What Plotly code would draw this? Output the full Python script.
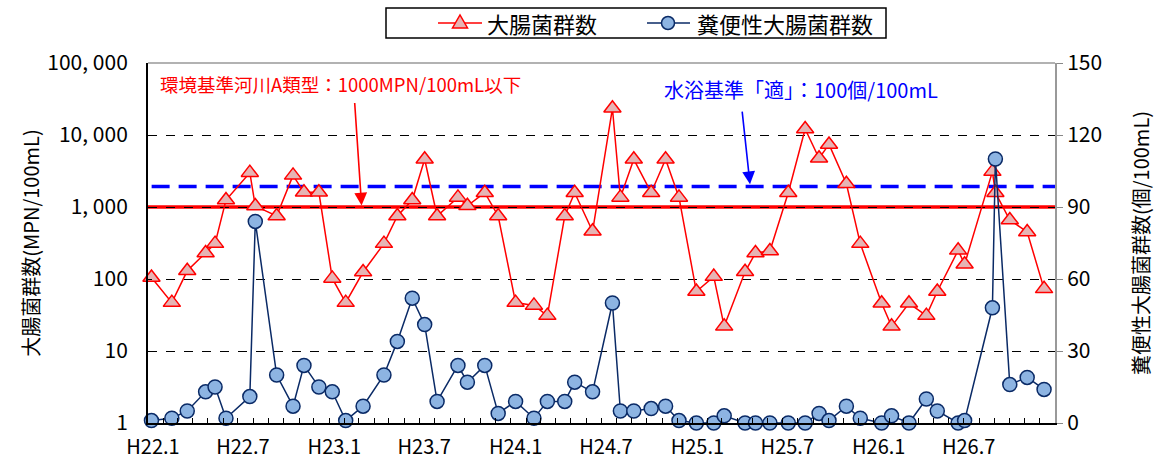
import plotly.graph_objects as go

# sampling dates
dates = [
    "2010-01-08", "2010-02-18", "2010-03-21", "2010-04-27", "2010-05-16", "2010-06-07",
    "2010-07-25", "2010-08-05", "2010-09-17", "2010-10-20", "2010-11-11", "2010-12-11",
    "2011-01-07", "2011-02-03", "2011-03-10", "2011-04-21", "2011-05-18", "2011-06-17",
    "2011-07-12", "2011-08-06", "2011-09-17", "2011-10-06", "2011-11-10", "2011-12-07",
    "2012-01-11", "2012-02-17", "2012-03-15", "2012-04-19", "2012-05-09", "2012-06-14",
    "2012-07-24", "2012-08-09", "2012-09-05", "2012-10-10", "2012-11-08", "2012-12-05",
    "2013-01-09", "2013-02-13", "2013-03-06", "2013-04-17", "2013-05-08", "2013-06-06",
    "2013-07-13", "2013-08-16", "2013-09-13", "2013-10-03", "2013-11-07", "2013-12-05",
    "2014-01-17", "2014-02-06", "2014-03-13", "2014-04-17", "2014-05-09", "2014-06-20",
    "2014-07-03", "2014-08-28", "2014-09-03", "2014-10-02", "2014-11-06", "2014-12-10",
]

# 大腸菌群数 (MPN/100mL), left log axis
coliform = [
    105, 47, 130, 230, 310, 1250, 3000, 1030, 750, 2750, 1600, 1600,
    102, 47, 125, 310, 750, 1250, 4600, 750, 1360, 1040, 1580, 750,
    47, 43, 31, 750, 1580, 460, 23500, 1360, 4600, 1580, 4600, 1360,
    67, 108, 22, 126, 230, 245, 1580, 12100, 4750, 7400, 2100, 310,
    46, 22, 46, 31, 67, 250, 160, 3100, 1580, 660, 450, 73,
]

# 糞便性大腸菌群数 (個/100mL), right linear axis
fecal = [
    1, 2, 5, 13, 15, 2, 11, 84, 20, 7, 24, 15,
    13, 1, 7, 20, 34, 52, 41, 9, 24, 17, 24, 4,
    9, 2, 9, 9, 17, 13, 50, 5, 5, 6, 7, 1,
    0, 0, 3, 0, 0, 0, 0, 0, 4, 1, 7, 2,
    0, 3, 0, 10, 5, 0, 1, 48, 110, 16, 19, 14,
]

env_standard = 1000      # 環境基準河川A類型
bath_standard = 98.5     # 水浴基準「適」 (as drawn)

tick_dates = ["2010-01-01", "2010-07-01", "2011-01-01", "2011-07-01", "2012-01-01",
              "2012-07-01", "2013-01-01", "2013-07-01", "2014-01-01", "2014-07-01"]
tick_text = ["H22.1", "H22.7", "H23.1", "H23.7", "H24.1",
             "H24.7", "H25.1", "H25.7", "H26.1", "H26.7"]

left_vals = [1, 10, 100, 1000, 10000, 100000]
left_text = ["1", "10", "100", "1, 000", "10, 000", "100, 000"]

series_names = ["大腸菌群数", "糞便性大腸菌群数"]

font = "Noto Sans CJK JP"
RED = "#FF0000"
NAVY = "#0A2A66"
PINK = "#E6B4B4"
LIGHTBLUE = "#8DB4E2"

# plot area in pixels (for positioning things in the margins)
L, R, T, B = 148, 1055, 63, 423


def px(x):
    return (x - L) / (R - L)


def py(y):
    return (B - y) / (B - T)


fig = go.Figure()

fig.add_trace(go.Scatter(
    x=dates, y=coliform, name=series_names[0], mode="lines+markers",
    line=dict(color=RED, width=1.5),
    marker=dict(symbol="triangle-up", size=15, color=PINK, line=dict(color=RED, width=1.5)),
    cliponaxis=False,
))

fig.add_trace(go.Scatter(
    x=dates, y=fecal, name=series_names[1], mode="lines+markers", yaxis="y2",
    line=dict(color=NAVY, width=1.5),
    marker=dict(symbol="circle", size=14, color=LIGHTBLUE, line=dict(color=NAVY, width=1.5)),
    cliponaxis=False,
))

# standard lines
fig.add_shape(type="line", xref="paper", x0=0, x1=1, yref="y", y0=env_standard, y1=env_standard,
              line=dict(color=RED, width=3.5), layer="between")
fig.add_shape(type="line", xref="paper", x0=0.004, x1=1, yref="y2", y0=bath_standard, y1=bath_standard,
              line=dict(color="#0000FF", width=3.5, dash="18px,9px"), layer="between")

# labels and arrows
fig.add_annotation(text="環境基準河川A類型：1000MPN/100mL以下", xref="paper", yref="paper",
                   x=px(158), y=py(84), xanchor="left", yanchor="middle", showarrow=False,
                   font=dict(family=font, size=18.5, color=RED))
fig.add_annotation(text="", x="2011-03-07", y=3.02, xref="x", yref="y",
                   ax=-7, ay=-104, showarrow=True, arrowhead=2, arrowsize=1.6,
                   arrowwidth=1.6, arrowcolor=RED)
fig.add_annotation(text="水浴基準「適」：100個/100mL", xref="paper", yref="paper",
                   x=px(662), y=py(90), xanchor="left", yanchor="middle", showarrow=False,
                   font=dict(family=font, size=20, color="#0000FF"))
fig.add_annotation(text="", x="2013-04-27", y=bath_standard + 1, xref="x", yref="y2",
                   ax=-8, ay=-74, showarrow=True, arrowhead=2, arrowsize=1.6,
                   arrowwidth=1.6, arrowcolor="#0000FF")

# hand-drawn legend (a plotly legend above the plot would push the margins)
fig.add_shape(type="rect", xref="paper", yref="paper", x0=px(386), x1=px(886), y0=py(38), y1=py(8),
              line=dict(color="black", width=1.5), fillcolor="rgba(0,0,0,0)")
fig.add_shape(type="line", xref="paper", yref="paper", x0=px(438), x1=px(482), y0=py(23), y1=py(23),
              line=dict(color=RED, width=1.5))
fig.add_shape(type="path", xref="paper", yref="paper", xsizemode="pixel", ysizemode="pixel",
              xanchor=px(460), yanchor=py(23), path="M -7.5,-5 L 7.5,-5 L 0,8 Z",
              fillcolor=PINK, line=dict(color=RED, width=1.5))
fig.add_shape(type="line", xref="paper", yref="paper", x0=px(647), x1=px(690), y0=py(23), y1=py(23),
              line=dict(color=NAVY, width=1.5))
fig.add_shape(type="circle", xref="paper", yref="paper", xsizemode="pixel", ysizemode="pixel",
              xanchor=px(668), yanchor=py(23), x0=-6.5, x1=6.5, y0=-6.5, y1=6.5,
              fillcolor=LIGHTBLUE, line=dict(color=NAVY, width=1.5))
fig.add_annotation(text=series_names[0], xref="paper", yref="paper", x=px(485), y=py(23),
                   xanchor="left", yanchor="middle", showarrow=False, font=dict(size=22))
fig.add_annotation(text=series_names[1], xref="paper", yref="paper", x=px(695), y=py(23),
                   xanchor="left", yanchor="middle", showarrow=False, font=dict(size=22))

# top border of plot area
fig.add_shape(type="line", xref="paper", yref="paper", x0=0, x1=1, y0=1, y1=1,
              line=dict(color="#999999", width=1.5))

fig.update_layout(
    width=1163, height=470,
    margin=dict(l=L, r=1163 - R, t=T, b=470 - B),
    paper_bgcolor="white", plot_bgcolor="white",
    font=dict(family=font, size=20, color="black"),
    showlegend=False,
    xaxis=dict(
        type="date", range=["2010-01-01", "2015-01-01"], automargin=False,
        tickvals=tick_dates, ticktext=tick_text, tickfont=dict(size=20),
        ticks="inside", ticklen=5, tickcolor="black", ticklabelshift=5, ticklabelstandoff=5,
        minor=dict(dtick="M1", ticks="inside", ticklen=5, tickcolor="black"),
        showline=True, linecolor="black", linewidth=2, showgrid=False, zeroline=False,
    ),
    yaxis=dict(
        type="log", range=[0, 5], tickvals=left_vals, ticktext=left_text, automargin=False,
        tickfont=dict(size=21), ticks="inside", ticklen=4, tickcolor="black",
        ticklabelstandoff=14,
        showline=True, linecolor="black", linewidth=2,
        showgrid=True, gridcolor="black", griddash="dash", gridwidth=1,
        title=dict(text="大腸菌群数(MPN/100mL)", font=dict(size=20), standoff=2),
    ),
    yaxis2=dict(
        overlaying="y", side="right", range=[0, 150], tickvals=[0, 30, 60, 90, 120, 150],
        automargin=False,
        tickfont=dict(size=21), ticks="outside", ticklen=6, tickcolor="#888888",
        showline=True, linecolor="#999999", linewidth=2, showgrid=False, zeroline=False,
        title=dict(text="糞便性大腸菌群数(個/100mL)", font=dict(size=20), standoff=34),
    ),
)

# the page body has a default 8px margin; drop it so the figure sits at the window origin
fig.write_html("out.html", config={"displayModeBar": False},
               post_script="document.body.style.margin='0';")
